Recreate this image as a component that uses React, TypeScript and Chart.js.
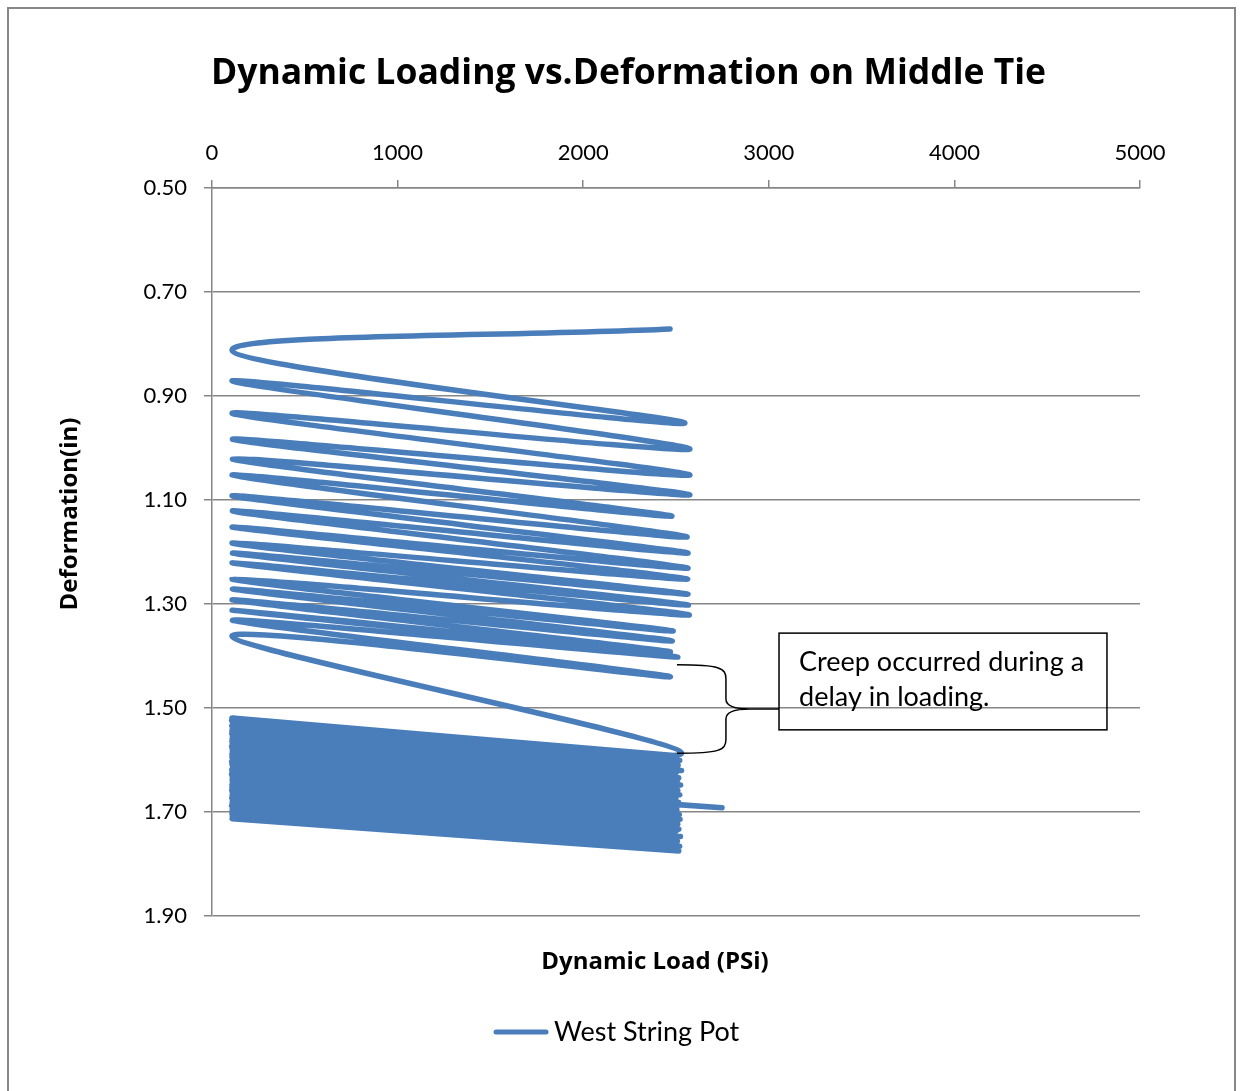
import React, { useEffect, useRef } from "react";
import { Chart, registerables } from "chart.js";

Chart.register(...registerables);

const FONT = "Lato, 'Noto Sans', sans-serif";
const BOLD_FONT = "'Open Sans', 'Noto Sans', sans-serif";

const chartTitle = "Dynamic Loading vs.Deformation on Middle Tie";
const xAxisTitle = "Dynamic Load (PSi)";
const yAxisTitle = "Deformation(in)";
const seriesName = "West String Pot";
const noteLines = ["Creep occurred during a", "delay in loading."];

const xTickValues = [0, 1000, 2000, 3000, 4000, 5000];
const yTickValues = [0.5, 0.7, 0.9, 1.1, 1.3, 1.5, 1.7, 1.9];

// First loading phase (turning points of the load/deformation cycles)
const upperLoad = [
  2468, 108, 2548, 108, 2575, 108, 2575, 110, 2575, 110, 2478, 108, 2560, 108,
  2565, 110, 2565, 108, 2563, 108, 2565, 110, 2567, 108, 2572, 108, 2485, 110,
  2480, 108, 2470, 108, 2510, 110, 2470, 108,
];
const upperDef = [
  0.771, 0.812, 0.952, 0.871, 1.002, 0.933, 1.052, 0.983, 1.09, 1.021, 1.131,
  1.052, 1.171, 1.092, 1.202, 1.121, 1.231, 1.152, 1.252, 1.183, 1.281, 1.202,
  1.302, 1.221, 1.321, 1.252, 1.352, 1.271, 1.371, 1.292, 1.392, 1.312, 1.402,
  1.331, 1.44, 1.362,
];

// Second loading phase after the delay (dense cycling)
const blockPeakLoad = [
  2530, 2505, 2488, 2520, 2497, 2512, 2480, 2530, 2502, 2490, 2515, 2508, 2478,
  2525, 2495, 2510, 2486, 2520, 2500, 2482, 2514, 2498, 2748, 2505, 2490, 2518,
  2480, 2522, 2496, 2510, 2484, 2516, 2500, 2488, 2524, 2494, 2508, 2478, 2520,
  2502, 2515,
];
const blockPeakDef = [
  1.587, 1.592, 1.596, 1.601, 1.606, 1.61, 1.615, 1.62, 1.624, 1.629, 1.634,
  1.639, 1.643, 1.648, 1.653, 1.658, 1.662, 1.667, 1.672, 1.676, 1.681, 1.686,
  1.692, 1.695, 1.7, 1.705, 1.709, 1.714, 1.719, 1.723, 1.728, 1.733, 1.737,
  1.742, 1.747, 1.752, 1.756, 1.761, 1.766, 1.77, 1.775,
];
const blockLowLoad = [
  108, 106, 110, 107, 109, 108, 106, 110, 108, 107, 109, 106, 108, 110, 107,
  108, 109, 106, 108, 110, 107, 108, 106, 109, 108, 110, 107, 108, 106, 109,
  108, 107, 110, 108, 106, 109, 108, 107, 110, 108,
];
const blockLowDef = [
  1.519, 1.524, 1.529, 1.534, 1.539, 1.544, 1.549, 1.554, 1.559, 1.564, 1.569,
  1.574, 1.579, 1.584, 1.589, 1.594, 1.598, 1.603, 1.608, 1.613, 1.618, 1.623,
  1.628, 1.633, 1.638, 1.643, 1.648, 1.653, 1.658, 1.663, 1.668, 1.673, 1.678,
  1.683, 1.688, 1.693, 1.698, 1.703, 1.708, 1.713,
];

// Callout placement in data units
const noteBox = { x0: 3055, x1: 4822, y0: 1.356, y1: 1.542 };
const noteText = { x: 3163, y0: 1.4288, y1: 1.4962 };
const brace = { xStart: 2505, xSpine: 2769, yTop: 1.417, yMid: 1.502, yBottom: 1.587 };

const LINE_COLOR = "#4a7ebb";
const GRID_COLOR = "#868686";

function buildPoints() {
  const pts: { x: number; y: number }[] = [];
  for (let i = 0; i < upperLoad.length; i++) pts.push({ x: upperLoad[i], y: upperDef[i] });
  for (let i = 0; i < blockPeakLoad.length; i++) {
    if (i > 0) pts.push({ x: blockLowLoad[i - 1], y: blockLowDef[i - 1] });
    pts.push({ x: blockPeakLoad[i], y: blockPeakDef[i] });
  }
  return pts;
}

const decorPlugin = {
  id: "decor",
  afterDraw(chart: any) {
    const { ctx, chartArea, scales } = chart;
    const xs = scales.x;
    const ys = scales.y;
    ctx.save();
    ctx.fillStyle = "#000";

    // x-axis title (below plot)
    ctx.font = `bold 24px ${BOLD_FONT}`;
    ctx.textAlign = "center";
    ctx.textBaseline = "middle";
    ctx.fillText(xAxisTitle, chartArea.left + 443, chartArea.bottom + 46);

    // y-axis title
    ctx.save();
    ctx.translate(chartArea.left - 142, chartArea.top + 326);
    ctx.rotate(-Math.PI / 2);
    ctx.fillText(yAxisTitle, 0, 0);
    ctx.restore();

    // legend
    const ly = chartArea.bottom + 116;
    ctx.strokeStyle = LINE_COLOR;
    ctx.lineWidth = 5;
    ctx.lineCap = "round";
    ctx.beginPath();
    ctx.moveTo(chartArea.left + 284, ly);
    ctx.lineTo(chartArea.left + 334, ly);
    ctx.stroke();
    ctx.font = `27px ${FONT}`;
    ctx.textAlign = "left";
    ctx.fillText(seriesName, chartArea.left + 342, ly);

    // callout box
    const bx0 = xs.getPixelForValue(noteBox.x0);
    const bx1 = xs.getPixelForValue(noteBox.x1);
    const by0 = ys.getPixelForValue(noteBox.y0);
    const by1 = ys.getPixelForValue(noteBox.y1);
    ctx.strokeStyle = "#000";
    ctx.lineWidth = 1.5;
    ctx.lineCap = "butt";
    ctx.strokeRect(bx0, by0, bx1 - bx0, by1 - by0);
    ctx.font = `27px ${FONT}`;
    ctx.textBaseline = "alphabetic";
    ctx.fillText(noteLines[0], xs.getPixelForValue(noteText.x), ys.getPixelForValue(noteText.y0));
    ctx.fillText(noteLines[1], xs.getPixelForValue(noteText.x), ys.getPixelForValue(noteText.y1));

    // brace
    const xa = xs.getPixelForValue(brace.xStart);
    const xb = xs.getPixelForValue(brace.xSpine);
    const yt = ys.getPixelForValue(brace.yTop);
    const ym = ys.getPixelForValue(brace.yMid);
    const yb = ys.getPixelForValue(brace.yBottom);
    ctx.beginPath();
    ctx.moveTo(xa, yt);
    ctx.bezierCurveTo(xb - 6, yt, xb, yt + 3, xb, yt + 14);
    ctx.lineTo(xb, ym - 10);
    ctx.quadraticCurveTo(xb, ym, xb + 24, ym);
    ctx.lineTo(bx0, ym);
    ctx.moveTo(xb + 24, ym);
    ctx.quadraticCurveTo(xb, ym, xb, ym + 10);
    ctx.lineTo(xb, yb - 14);
    ctx.bezierCurveTo(xb, yb - 3, xb - 6, yb, xa, yb);
    ctx.stroke();
    ctx.restore();
  },
};

export default function App() {
  const canvasRef = useRef<HTMLCanvasElement | null>(null);

  useEffect(() => {
    if (!canvasRef.current) return;
    Chart.defaults.font.family = FONT;
    Chart.defaults.color = "#000";
    const chart = new Chart(canvasRef.current, {
      type: "scatter",
      data: {
        datasets: [
          {
            label: seriesName,
            data: buildPoints(),
            showLine: true,
            borderColor: LINE_COLOR,
            backgroundColor: LINE_COLOR,
            borderWidth: 5.5,
            borderJoinStyle: "round",
            borderCapStyle: "round",
            pointRadius: 0,
            pointHoverRadius: 0,
            tension: 0.35,
          },
        ],
      },
      options: {
        responsive: false,
        animation: false,
        events: [],
        layout: { padding: { left: 108, right: 94, top: 0, bottom: 175 } },
        plugins: {
          legend: { display: false },
          tooltip: { enabled: false },
          title: {
            display: true,
            text: chartTitle,
            color: "#000",
            font: { family: BOLD_FONT, size: 35.5, weight: "bold" },
            padding: { top: 44, bottom: 18 },
          },
        },
        scales: {
          x: {
            type: "linear",
            position: "top",
            min: 0,
            max: 5000,
            afterBuildTicks: (s: any) => {
              s.ticks = xTickValues.map((v) => ({ value: v }));
            },
            afterFit: (s: any) => {
              s.height = 74.4;
            },
            ticks: {
              font: { size: 22 },
              color: "#000",
              padding: 14,
              maxRotation: 0,
              callback: (v: any) => String(v),
            },
            grid: { drawOnChartArea: false, drawTicks: true, tickLength: 8, color: GRID_COLOR, lineWidth: 1.5 },
            border: { display: true, color: GRID_COLOR, width: 1.5 },
          },
          y: {
            type: "linear",
            position: "left",
            reverse: true,
            min: 0.5,
            max: 1.9,
            afterBuildTicks: (s: any) => {
              s.ticks = yTickValues.map((v) => ({ value: v }));
            },
            afterFit: (s: any) => {
              s.width = 95;
            },
            ticks: {
              font: { size: 22 },
              color: "#000",
              padding: 17,
              callback: (v: any) => Number(v).toFixed(2),
            },
            grid: { drawOnChartArea: true, drawTicks: true, tickLength: 8, color: GRID_COLOR, lineWidth: 1.5 },
            border: { display: true, color: GRID_COLOR, width: 1.5 },
          },
        },
      },
      plugins: [decorPlugin],
    } as any);
    return () => chart.destroy();
  }, []);

  return (
    <div
      style={{
        position: "absolute",
        left: 7,
        top: 7,
        width: 1229,
        height: 1084,
        boxSizing: "border-box",
        borderTop: "2px solid #878787",
        borderLeft: "2px solid #878787",
        borderRight: "2px solid #878787",
        background: "#fff",
        overflow: "hidden",
      }}
    >
      <canvas ref={canvasRef} width={1225} height={1082} style={{ display: "block", width: 1225, height: 1082 }} />
    </div>
  );
}
